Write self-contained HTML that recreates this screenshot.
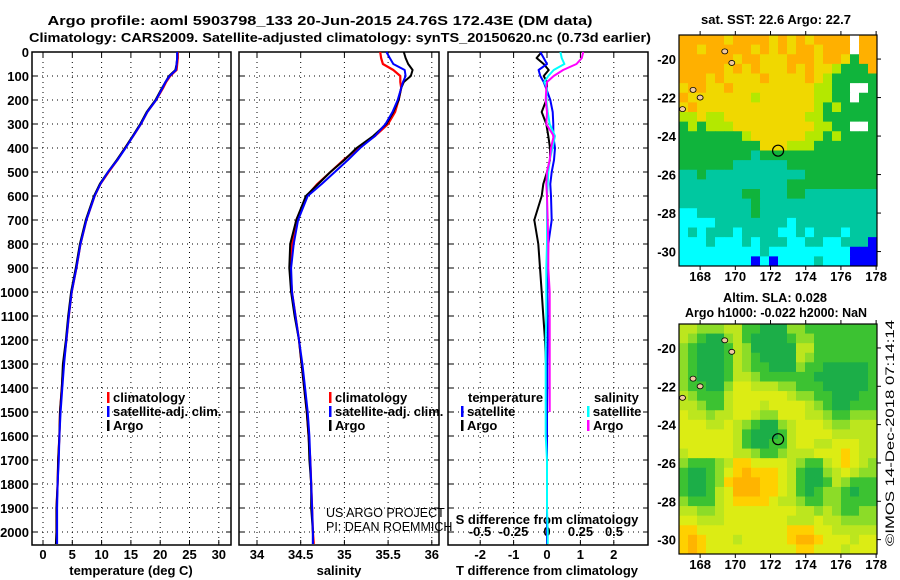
<!DOCTYPE html>
<html><head><meta charset="utf-8"><style>
html,body{margin:0;padding:0;background:#fff;}
svg{display:block;font-family:"Liberation Sans",sans-serif;}
.b{font-weight:bold;font-size:13px;}
</style></head><body>
<svg id="c" width="900" height="580" viewBox="0 0 900 580" xmlns="http://www.w3.org/2000/svg">
<text x="320" y="25" text-anchor="middle" class="b" textLength="545" lengthAdjust="spacingAndGlyphs">Argo profile: aoml 5903798_133 20-Jun-2015 24.76S 172.43E (DM data)</text>
<text x="340" y="42" text-anchor="middle" class="b" textLength="622" lengthAdjust="spacingAndGlyphs">Climatology: CARS2009. Satellite-adjusted climatology: synTS_20150620.nc (0.73d earlier)</text>
<text x="776" y="24" text-anchor="middle" class="b" textLength="150" lengthAdjust="spacingAndGlyphs">sat. SST: 22.6 Argo: 22.7</text>
<text x="775" y="302" text-anchor="middle" class="b" textLength="104" lengthAdjust="spacingAndGlyphs">Altim. SLA: 0.028</text>
<text x="776" y="317" text-anchor="middle" class="b" textLength="182" lengthAdjust="spacingAndGlyphs">Argo h1000: -0.022 h2000: NaN</text>
<text transform="translate(894,546) rotate(-90)" font-size="12" textLength="226" lengthAdjust="spacingAndGlyphs">©IMOS 14-Dec-2018 07:14:14</text>
</svg>
<script>
// ---------- data ----------
const depths = [0,25,50,75,100,125,150,200,250,300,350,400,450,500,550,600,700,800,900,1000,1100,1200,1300,1400,1500,1600,1700,1800,1900,2000,2050];
const tempArgo = [22.9,22.9,22.8,22.6,21.5,20.9,20.3,19.2,17.7,16.6,15.3,14.0,12.6,11.1,9.7,8.7,7.3,6.3,5.6,4.8,4.3,3.9,3.4,3.2,2.9,2.8,2.6,2.5,2.3,2.3,2.2];
const tempClim = [23.0,23.0,22.9,22.8,21.7,21.0,20.5,19.3,17.8,16.7,15.4,14.0,12.7,11.2,9.8,8.8,7.4,6.4,5.7,4.9,4.4,4.0,3.5,3.2,2.9,2.8,2.6,2.5,2.3,2.3,2.3];
const tempSat = [22.9,22.9,22.8,22.7,21.6,20.9,20.4,19.3,17.8,16.7,15.4,14.1,12.7,11.1,9.8,8.8,7.4,6.4,5.7,4.9,4.4,4.0,3.6,3.3,3.0,2.8,2.7,2.5,2.4,2.4,2.4];
const salArgo = [35.68,35.70,35.73,35.78,35.76,35.68,35.65,35.62,35.56,35.48,35.33,35.14,35.0,34.84,34.70,34.56,34.45,34.38,34.37,34.39,34.43,34.48,34.51,34.54,34.57,34.59,34.60,34.62,34.62,34.64,34.64];
const salClim = [35.41,35.42,35.44,35.56,35.64,35.64,35.65,35.62,35.58,35.50,35.35,35.16,34.99,34.84,34.69,34.57,34.45,34.40,34.38,34.40,34.44,34.48,34.51,34.54,34.57,34.59,34.61,34.62,34.63,34.64,34.65];
const salSat = [35.48,35.52,35.56,35.69,35.70,35.67,35.65,35.61,35.55,35.47,35.35,35.18,35.04,34.89,34.74,34.58,34.47,34.42,34.39,34.40,34.44,34.48,34.52,34.55,34.58,34.60,34.61,34.62,34.63,34.64,34.64];
const dTSat = [-0.2,-0.1,0,-0.25,-0.2,-0.1,-0.03,0.1,0.17,0.19,0.19,0.24,0.21,0.14,0.1,0.12,0.14,0.04,0.02,0.01,0.02,0.02,0.01,0.01,0.0,0.0,0.0,0.0,0.0,0.0,0.0];
const dTArgo = [-0.16,-0.31,-0.1,0.05,-0.1,0.0,0.0,-0.02,-0.16,-0.02,0.04,0.09,0.09,0.0,-0.11,-0.16,-0.38,-0.26,-0.21,-0.16,-0.11,-0.06,-0.03,-0.03,-0.03,-0.03];
const dSSat = [0.1,0.11,0.13,0.05,0.01,-0.02,0.0,-0.005,0.005,0.02,0.06,0.04,0.02,0.01,0.005,0.0,0.0,0.0,-0.005,-0.005,-0.005,-0.01,-0.01,-0.01,-0.01,-0.01,0.0,0.0,0.0,0.005,0.005];
const dSArgo = [0.27,0.26,0.22,0.12,0.05,0.0,-0.005,-0.01,0.0,-0.005,0.05,0.03,0.02,0.0,-0.005,0.0,0.005,0.01,0.01,0.02,0.02,0.02,0.02,0.02,0.02];
const depthTicks = [0,100,200,300,400,500,600,700,800,900,1000,1100,1200,1300,1400,1500,1600,1700,1800,1900,2000];
const tempTicks = [0,5,10,15,20,25,30];
const salTicks = [34,34.5,35,35.5,36];
const dTTicks = [-2,-1,0,1,2];
const dSTickVals = [-0.5,-0.25,0,0.25,0.5];
const dSTickLabels = ["-0.5","-0.25","0","0.25","0.5"];
const lonTicks = [168,170,172,174,176,178];
const latTicks = [-20,-22,-24,-26,-28,-30];
const argoLon = 172.43, argoLat = -24.76;
const sstGrid = [
"6666656666565656666w66","6656666656565665666w66","6666665665556665665366","6666656565556565543336",
"6665655556555565433333","5665565555555554433ww3","6555555545555554433w33","5655555555555554343333",
"4454455555555544333333","3434445555555554433ww3","3333333455555544343333","3333333335554443333333",
"3333333323333333333333","3333332222223333333333","2232222222222233333333","2222222222223333333333",
"2222222332223322222222","2222222232222222222222","1122222232222222222222","1111222222221222222222",
"1212221222211212221222","1112111212221122112220","1111111112111111111000","1111111101011112111000"];
const slaGrid = [
"3322233110002211111111","3210023100001221111111","2100013200000331111111","2100013210000321111111",
"2100013211000211000001","2100013321111110000001","2110024433322111000001","3211134444443221100011",
"3321134443444432100111","4332334432244433211222","4443343210023444322333","4444443100013444433333",
"4444443100113443344433","3444443321123334445433","2111235544443211345432","1001245655543100234322",
"1001256665543100132111","1001346665543101221011","2111345555433211221111","3322344444444332321122",
"4433344444443334332222","5544444444445554433333","5654443444445665444344","5654444444444554443444"];
const sstColors = {"0":"#0000ff","1":"#00ffff","2":"#00c8a0","3":"#10b43c","4":"#b4e800","5":"#f0d800","6":"#ffb000","w":"#ffffff"};
const slaColors = {"0":"#1cae48","1":"#3cc232","2":"#8cdc28","3":"#bce61e","4":"#dcec14","5":"#ffd000","6":"#ffb400"};

// ---------- drawing ----------
const svg = document.getElementById('c');
const NS = 'http://www.w3.org/2000/svg';
function mk(tag, attrs, parent){const e=document.createElementNS(NS,tag);for(const k in attrs)e.setAttribute(k,attrs[k]);(parent||svg).appendChild(e);return e;}
function txt(x,y,s,anchor,cls,parent){const t=mk('text',{x:x,y:y,'text-anchor':anchor||'start','class':cls||'b'},parent);t.textContent=s;return t;}

const yTop=52, yBot=545, pxPer100=24;
const yD = d => yTop + d*pxPer100/100;
const panels = [{x0:32,x1:231},{x0:239,x1:439},{x0:448,x1:648}];
const xT = v => 43 + v*5.86;
const xS = v => 257 + (v-34)*87.4;
const xdT = v => 547 + v*33.4;
const xdS = v => 547 + v*134;

panels.forEach((p,i)=>{
  const g = mk('g',{});
  
  
  depthTicks.forEach(d=>{
    const l=mk('line',{x1:p.x0,x2:p.x1,y1:yD(d),y2:yD(d),stroke:'#000','stroke-width':1,'stroke-dasharray':'1,4'},g);
    
    
    mk('line',{x1:p.x0,x2:p.x0+5,y1:yD(d),y2:yD(d),stroke:'#000'},g);
    mk('line',{x1:p.x1-5,x2:p.x1,y1:yD(d),y2:yD(d),stroke:'#000'},g);
  });
  const r=mk('rect',{x:p.x0,y:yTop,width:p.x1-p.x0,height:yBot-yTop,fill:'none',stroke:'#000','stroke-width':1.5},g);
  
  
});
depthTicks.forEach(d=>{
  const t=txt(29,yD(d)+5,String(d),'end');
  
  
});
function vgrid(vals,fx,labels,ly){
  vals.forEach((v,k)=>{
    const x=fx(v);
    const l=mk('line',{x1:x,x2:x,y1:yTop,y2:yBot,stroke:'#000','stroke-dasharray':'1,4'});
    
    
    mk('line',{x1:x,x2:x,y1:yTop,y2:yTop+5,stroke:'#000'});
    mk('line',{x1:x,x2:x,y1:yBot-5,y2:yBot,stroke:'#000'});
    if(labels){const t=txt(x,ly,labels[k],'middle');
      
      }
  });
}
vgrid(tempTicks,xT,tempTicks.map(String),559);
vgrid(salTicks,xS,salTicks.map(String),559);
vgrid(dTTicks,xdT,dTTicks.map(String),559);
dSTickVals.forEach((v,k)=>{const t=txt(xdS(v),536,dSTickLabels[k],'middle');
  
  });
[['temperature (deg C)',131,'x-axis-title-temperature'],['salinity',339,'x-axis-title-salinity'],['T difference from climatology',547,'x-axis-title-t-diff']].forEach(a=>{
  const t=txt(a[1],575,a[0],'middle');
  
  });
const sdt=txt(547,524,'S difference from climatology','middle');



function line(vals,fx,color,name,w){
  const pts=vals.map((v,k)=>fx(v).toFixed(1)+','+yD(depths[k]).toFixed(1)).join(' ');
  const pl=mk('polyline',{points:pts,fill:'none',stroke:color,'stroke-width':w||2,'stroke-linejoin':'round'});
  
  
}
line(tempClim,xT,'#ff0000','temperature-climatology-line',2.2);
line(tempArgo,xT,'#000000','temperature-argo-line',2);
line(tempSat,xT,'#0000ff','temperature-satellite-line',2);
line(salClim,xS,'#ff0000','salinity-climatology-line',2.2);
line(salArgo,xS,'#000000','salinity-argo-line',2);
line(salSat,xS,'#0000ff','salinity-satellite-line',2);
line(dTArgo,xdT,'#000000','t-diff-argo-line',2);
line(dTSat,xdT,'#0000ff','t-diff-satellite-line',2);
line(dSSat,xdS,'#00ffff','s-diff-satellite-line',2);
line(dSArgo,xdS,'#ff00ff','s-diff-argo-line',2);

function legend(x,y,items,name){
  const g=mk('g',{});
  
  
  items.forEach((it,k)=>{
    const yy=y+k*14;
    mk('rect',{x:x,y:yy-10,width:2.5,height:11,fill:it[1]},g);
    txt(x+6,yy,it[0],'start','b',g);
  });
}
legend(107,402,[['climatology','#ff0000'],['satellite-adj. clim.','#0000ff'],['Argo','#000']],'temperature-legend');
legend(329,402,[['climatology','#ff0000'],['satellite-adj. clim.','#0000ff'],['Argo','#000']],'salinity-legend');
const lt=txt(468,402,'temperature');
const ls=txt(594,402,'salinity');
legend(461,416,[['satellite','#0000ff'],['Argo','#000']],'diff-legend-temperature');
legend(587,416,[['satellite','#00ffff'],['Argo','#ff00ff']],'diff-legend-salinity');
const u1=mk('text',{x:326,y:517,'font-size':'12.5'});u1.textContent='US ARGO PROJECT';

const u2=mk('text',{x:326,y:531,'font-size':'12.5'});u2.textContent='PI: DEAN ROEMMICH';


// ---------- maps ----------
const lonL=166.8, lonR=178.05, latT=-18.75, latB=-30.75;
function drawMap(y0,y1,grid,colors,name){
  const mx0=679,mx1=877;
  const xL = lon => mx0 + (lon-lonL)*(mx1-mx0)/(lonR-lonL);
  const yL = lat => y0 + (latT-lat)*(y1-y0)/(latT-latB);
  const g=mk('g',{});
  
  
  const nr=grid.length, nc=grid[0].length;
  const dLon=(lonR-lonL)/nc, dLat=(latT-latB)/nr;
  for(let r=0;r<nr;r++)for(let c=0;c<nc;c++){
    const lon=lonL+c*dLon, lat=latT-r*dLat;
    const x=xL(lon), y=yL(lat);
    const cell=mk('rect',{x:x.toFixed(2),y:y.toFixed(2),width:(xL(lon+dLon)-x+0.4).toFixed(2),height:(yL(lat-dLat)-y+0.4).toFixed(2),fill:colors[grid[r][c]]},g);
    
    
  }
  mk('rect',{x:mx0,y:y0,width:mx1-mx0,height:y1-y0,fill:'none',stroke:'#000','stroke-width':1.2},g);
  lonTicks.forEach(l=>{const x=xL(l);
    mk('line',{x1:x,x2:x,y1:y1,y2:y1+4,stroke:'#000'},g);
    mk('line',{x1:x,x2:x,y1:y0-4,y2:y0,stroke:'#000'},g);
    const t=txt(x,y1+15,String(l),'middle','b',g);
    });
  latTicks.forEach(l=>{const y=yL(l);
    mk('line',{x1:mx1,x2:mx1+4,y1:y,y2:y,stroke:'#000'},g);
    const t=txt(mx0-3,y+5,String(l),'end','b',g);
    });
  [[167.6,-21.6],[168.0,-22.0],[169.8,-20.2],[169.4,-19.6],[167.0,-22.6]].forEach(p=>{
    mk('ellipse',{cx:xL(p[0]),cy:yL(p[1]),rx:3,ry:2.5,fill:'#f0c8a0',stroke:'#000','stroke-width':0.8},g);});
  const ci=mk('circle',{cx:xL(argoLon),cy:yL(argoLat),r:5.5,fill:'none',stroke:'#000','stroke-width':1.2},g);
  
  
}
drawMap(35,266,sstGrid,sstColors,'sst-map');
drawMap(324,554,slaGrid,slaColors,'sla-map');
</script>
</body></html>
